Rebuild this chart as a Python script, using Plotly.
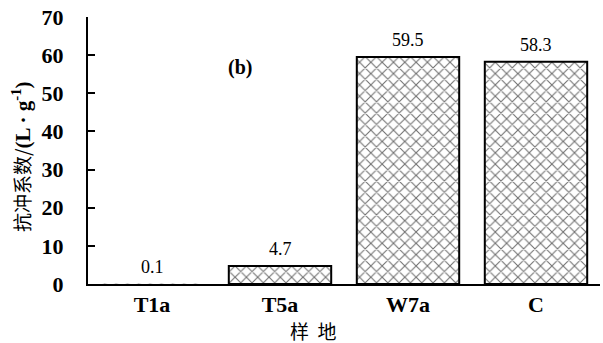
import plotly.graph_objects as go

# Sampling sites and their anti-scour coefficient
sites = ["T1a", "T5a", "W7a", "C"]
coef = [0.1, 4.7, 59.5, 58.3]
y_ticks = [0, 10, 20, 30, 40, 50, 60, 70]

serif = "Liberation Serif"
cjk = "Noto Sans CJK SC"

# near-zero bars are drawn without an outline so they merge into the axis
outline = [0 if v < 1 else 2 for v in coef]

fig = go.Figure()
fig.add_trace(go.Bar(
    x=sites, y=coef,
    marker=dict(
        color="white",
        line=dict(color="black", width=outline),
        pattern=dict(shape="x", size=8, solidity=0.25,
                     fgcolor="#707070", bgcolor="white", fillmode="replace"),
    ),
    width=0.8,
    showlegend=False,
))

# Value labels above bars
for s, v in zip(sites, coef):
    fig.add_annotation(x=s, y=v, text=f"{v:g}", showarrow=False,
                       yanchor="bottom", yshift=5,
                       font=dict(family=serif, size=18, color="black"))

# Panel tag
fig.add_annotation(x=(240 - 88) / 512, y=(284 - 67) / 267, xref="paper", yref="paper",
                   xanchor="center", yanchor="middle",
                   text="<b>(b)</b>", showarrow=False,
                   font=dict(family=serif, size=20, color="black"))

# Y-axis title
fig.add_annotation(x=(21 - 88) / 512, y=(284 - 157) / 267, xref="paper", yref="paper",
                   text=("抗冲系数/<span style='font-family:Liberation Serif;font-size:21px'><b>"
                         "(L · g<sup>-1</sup>)</b></span>"),
                   textangle=-90,
                   showarrow=False, xanchor="center", yanchor="middle",
                   font=dict(family=cjk, size=19, color="black"))

# X-axis title
fig.add_annotation(x=(313 - 88) / 512, y=(284 - 330) / 267, xref="paper", yref="paper",
                   xanchor="center", yanchor="middle",
                   text="样  地", showarrow=False,
                   font=dict(family=cjk, size=19, color="black"))

fig.update_layout(
    width=603, height=343,
    margin=dict(l=88, r=3, t=17, b=59),
    paper_bgcolor="white", plot_bgcolor="white",
    font=dict(family=serif, color="black"),
)
fig.update_xaxes(
    showline=True, linecolor="black", linewidth=2,
    ticks="", showgrid=False, range=[-0.5, 3.5],
    tickfont=dict(family=serif, size=22, color="black", weight="bold"),
)
fig.update_yaxes(
    range=[0, 70], tickvals=y_ticks,
    showline=True, linecolor="black", linewidth=2,
    ticks="inside", ticklen=7, tickwidth=2, tickcolor="black",
    showgrid=False, zeroline=False, ticklabelstandoff=18,
    tickfont=dict(family=serif, size=22, color="black", weight="bold"),
)

fig.write_html("out.html")
